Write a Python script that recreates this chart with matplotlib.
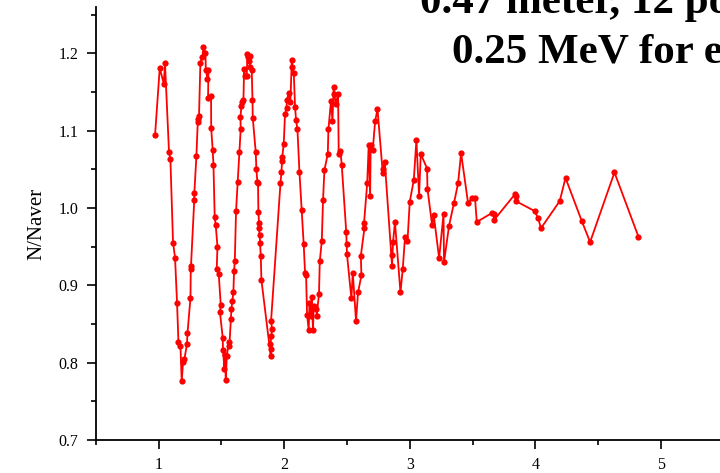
import numpy as np
import matplotlib
matplotlib.use('Agg')
import matplotlib.pyplot as plt
from matplotlib.ticker import MultipleLocator

# distance scan, normalised counts N/Naver
x_vals = [0.971, 1.008, 1.040, 1.050, 1.082, 1.093, 1.114, 1.130, 1.146, 1.157,
          1.173, 1.183, 1.194, 1.205, 1.225, 1.229, 1.253, 1.255, 1.257, 1.283,
          1.284, 1.300, 1.311, 1.316, 1.321, 1.332, 1.348, 1.356, 1.372, 1.375,
          1.388, 1.396, 1.393, 1.417, 1.418, 1.430, 1.436, 1.446, 1.454, 1.468,
          1.462, 1.478, 1.494, 1.488, 1.510, 1.512, 1.524, 1.528, 1.534, 1.542,
          1.558, 1.563, 1.574, 1.579, 1.587, 1.595, 1.600, 1.606, 1.616, 1.629,
          1.643, 1.653, 1.651, 1.659, 1.664, 1.675, 1.680, 1.685, 1.701, 1.707,
          1.715, 1.720, 1.731, 1.725, 1.741, 1.747, 1.749, 1.773, 1.778, 1.786,
          1.791, 1.794, 1.799, 1.797, 1.805, 1.807, 1.813, 1.818,
          1.892, 1.895, 1.890, 1.898, 1.903, 1.895,
          1.970, 1.978, 1.982, 1.984, 1.996, 2.006, 2.018, 2.022, 2.036, 2.049,
          2.060, 2.065, 2.076, 2.086, 2.094, 2.105, 2.121, 2.139, 2.155, 2.166,
          2.174, 2.182, 2.195, 2.201, 2.211, 2.219, 2.229, 2.235, 2.257, 2.259,
          2.277, 2.283, 2.299, 2.309, 2.320, 2.347, 2.352, 2.373, 2.384, 2.394,
          2.400, 2.410, 2.429, 2.434, 2.448, 2.458, 2.494, 2.497, 2.500, 2.535,
          2.546, 2.572, 2.588, 2.615, 2.610, 2.639, 2.636, 2.661, 2.673, 2.684,
          2.689, 2.705, 2.724, 2.743, 2.785, 2.787, 2.801, 2.859, 2.862, 2.867,
          2.882, 2.926, 2.944, 2.962, 2.982, 3.000, 3.032, 3.053, 3.074, 3.088,
          3.138, 3.141, 3.178, 3.191, 3.234, 3.269, 3.273, 3.313, 3.353, 3.385,
          3.409, 3.465, 3.494, 3.520, 3.534, 3.659, 3.672, 3.669, 3.839, 3.850,
          3.845, 3.996, 4.022, 4.046, 4.195, 4.241, 4.371, 4.437, 4.631, 4.822]

n_ratio = [1.095, 1.181, 1.161, 1.187, 1.072, 1.063, 0.955, 0.936, 0.877, 0.827,
           0.822, 0.776, 0.801, 0.805, 0.824, 0.838, 0.884, 0.921, 0.925, 1.010,
           1.020, 1.067, 1.111, 1.115, 1.119, 1.188, 1.195, 1.208, 1.201, 1.179,
           1.167, 1.179, 1.142, 1.145, 1.103, 1.075, 1.056, 0.988, 0.978, 0.950,
           0.921, 0.915, 0.875, 0.865, 0.832, 0.816, 0.792, 0.810, 0.777, 0.808,
           0.827, 0.822, 0.856, 0.869, 0.880, 0.892, 0.918, 0.931, 0.996, 1.034,
           1.073, 1.102, 1.118, 1.132, 1.137, 1.140, 1.180, 1.171, 1.171, 1.199,
           1.195, 1.190, 1.196, 1.183, 1.178, 1.140, 1.117, 1.072, 1.050, 1.034,
           1.033, 0.995, 0.981, 0.974, 0.965, 0.955, 0.938, 0.907,
           0.809, 0.818, 0.824, 0.835, 0.843, 0.854,
           1.032, 1.047, 1.061, 1.066, 1.083, 1.121, 1.130, 1.140, 1.149, 1.137,
           1.191, 1.183, 1.175, 1.131, 1.114, 1.102, 1.047, 0.997, 0.953, 0.916,
           0.913, 0.862, 0.842, 0.877, 0.860, 0.885, 0.842, 0.873, 0.870, 0.861,
           0.889, 0.931, 0.957, 1.010, 1.049, 1.070, 1.102, 1.139, 1.112, 1.157,
           1.147, 1.135, 1.147, 1.070, 1.074, 1.056, 0.969, 0.954, 0.940, 0.883,
           0.916, 0.854, 0.891, 0.913, 0.938, 0.974, 0.981, 1.032, 1.082, 1.015,
           1.082, 1.075, 1.112, 1.128, 1.045, 1.051, 1.060, 0.925, 0.939, 0.956,
           0.982, 0.891, 0.921, 0.962, 0.957, 1.008, 1.036, 1.088, 1.016, 1.070,
           1.051, 1.025, 0.978, 0.991, 0.935, 0.992, 0.930, 0.977, 1.007, 1.032,
           1.071, 1.006, 1.013, 1.013, 0.982, 0.994, 0.992, 0.984, 1.018, 1.016,
           1.009, 0.996, 0.987, 0.974, 1.009, 1.039, 0.983, 0.956, 1.046, 0.963]

title_lines = ['0.47 meter, 12 points', '0.25 MeV for each']

plt.rcParams['font.family'] = ['Liberation Serif', 'DejaVu Serif']

fig = plt.figure(figsize=(7.2, 4.73), dpi=100)
ax = fig.add_axes([0.1333, 0.0698, 0.8716, 0.9154])

ax.plot(x_vals, n_ratio, color='#ff0000', linewidth=1.3,
        marker='o', markersize=4.5, markeredgewidth=0)

ax.set_xlim(0.5, 5.5)
ax.set_ylim(0.7, 1.26)
ax.xaxis.set_major_locator(MultipleLocator(1))
ax.xaxis.set_minor_locator(MultipleLocator(0.5))
ax.yaxis.set_major_locator(MultipleLocator(0.1))
ax.yaxis.set_minor_locator(MultipleLocator(0.05))
ax.set_yticks(np.arange(0.7, 1.21, 0.1))
ax.set_yticklabels(['0.7', '0.8', '0.9', '1.0', '1.1', '1.2'])

ax.spines['top'].set_visible(False)
ax.spines['right'].set_visible(False)
for side in ['left', 'bottom']:
    ax.spines[side].set_linewidth(1.3)
ax.tick_params(which='major', direction='out', length=6.5, width=1.2, labelsize=11.5, pad=6)
ax.tick_params(which='minor', direction='out', length=3.5, width=1.2)

ax.set_ylabel('N/Naver', fontsize=15, labelpad=9)

# title text sits in the upper right, running off the page edge
fig.text(0.583, 0.9725, title_lines[0], fontsize=31, fontweight='bold',
         ha='left', va='baseline')
fig.text(0.628, 0.867, title_lines[1], fontsize=31, fontweight='bold',
         ha='left', va='baseline')

fig.savefig('out.png', dpi=100)
plt.close(fig)
